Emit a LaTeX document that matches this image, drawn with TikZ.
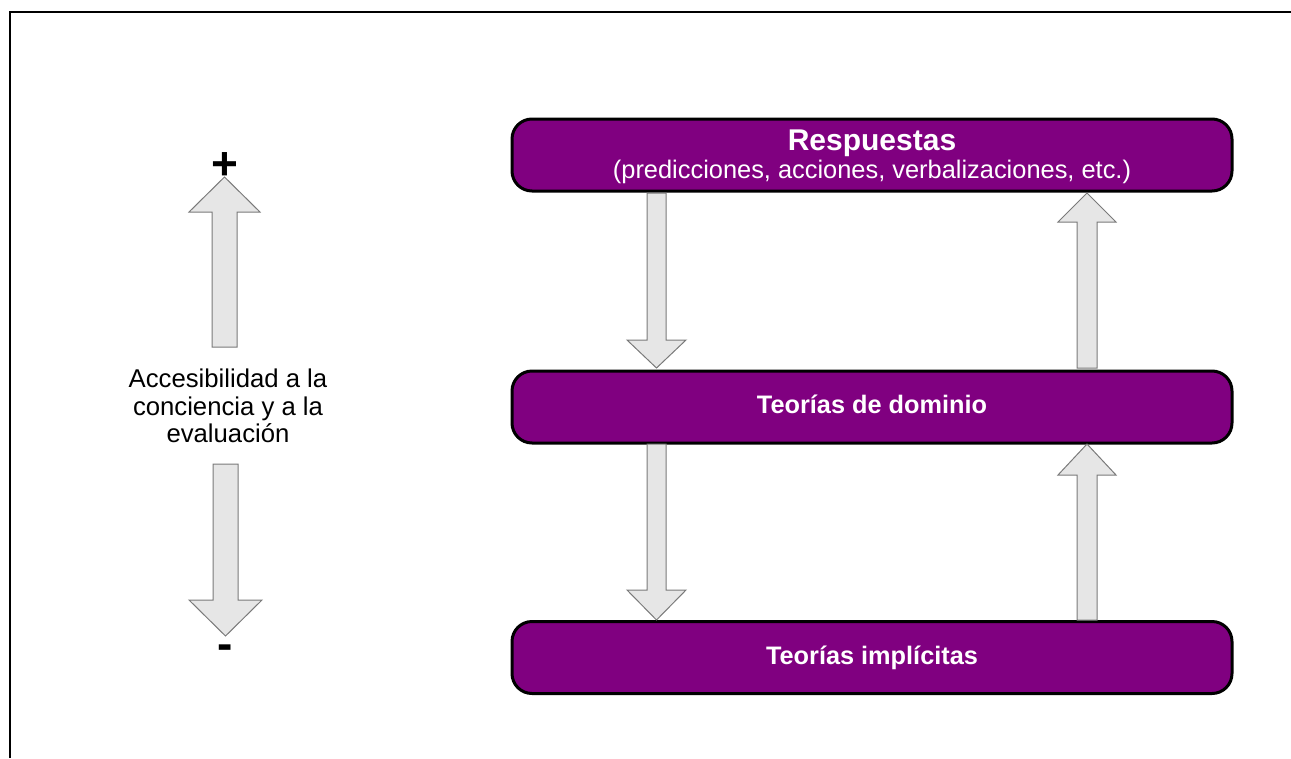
\documentclass[tikz,border=0pt]{standalone}
\usepackage{fontspec}
\setmainfont{Liberation Sans}
\usetikzlibrary{calc}
\definecolor{boxpurple}{HTML}{800080}
\definecolor{arrowfill}{HTML}{E6E6E6}
\definecolor{arrowline}{HTML}{7A7A7A}
\newcommand\blockarr[6]{%
  \draw[blockarrow] (#1-#5,#2) -- (#1+#5,#2) -- (#1+#5,#3) -- (#1+#6,#3) -- (#1,#4) -- (#1-#6,#3) -- (#1-#5,#3) -- cycle;}
\begin{document}
\begin{tikzpicture}[x=1pt,y=-1pt,
  stagebox/.style={draw=black, line width=3pt, fill=boxpurple, rounded corners=20pt,
    minimum width=720pt, minimum height=72pt, inner sep=0pt},
  blockarrow/.style={draw=arrowline, fill=arrowfill, line width=1pt, line join=miter},
  whitetxt/.style={text=white, inner sep=0pt, anchor=base},
  sidetxt/.style={text=black, inner sep=0pt, anchor=base, font=\fontsize{25.7}{28}\selectfont},
  signtxt/.style={text=black, inner sep=0pt, anchor=base, font=\fontsize{46}{50}\selectfont\bfseries}
]
\useasboundingbox (0,0) rectangle (1291,758);
% frame
\coordinate (fbl) at (10.3,758);
\coordinate (ftl) at (10.3,12);
\coordinate (ftr) at (1291,12);
\draw[line width=2pt] (fbl) -- (ftl) -- (ftr);

% boxes
\node[stagebox] (resp) at (872,155) {};
\node[stagebox] (dom) at (872,407) {};
\node[stagebox] (impl) at (872,657.5) {};

\node[whitetxt, font=\fontsize{30}{34}\selectfont\bfseries] (respT) at ($(resp.center)+(0,-5)$) {Respuestas};
\node[whitetxt, font=\fontsize{25.4}{30}\selectfont] (respS) at ($(resp.center)+(0,23)$) {(predicciones, acciones, verbalizaciones, etc.)};
\node[whitetxt, font=\fontsize{25.3}{30}\selectfont\bfseries] (domT) at ($(dom.center)+(0,6)$) {Teorías de dominio};
\node[whitetxt, font=\fontsize{25.3}{30}\selectfont\bfseries] (implT) at ($(impl.center)+(0,6.5)$) {Teorías implícitas};

% arrows between boxes
\blockarr{656.5}{193}{340}{368}{9.5}{29.5}
\blockarr{1087}{368}{222}{193}{10}{29}
\blockarr{656.5}{444}{590}{620}{9.5}{29.5}
\blockarr{1087}{620}{475}{444}{10}{29}

% left scale
\blockarr{224.5}{347}{212}{177}{12.5}{35.5}
\blockarr{225.5}{464}{600}{636}{12.5}{36.5}
\node[signtxt] (plus) at (225,179) {+};
\node[signtxt] (minus) at (225.5,659.5) {-};
\node[sidetxt] (l1) at (228,387) {Accesibilidad a la};
\node[sidetxt] (l2) at (228,415) {conciencia y a la};
\node[sidetxt] (l3) at (228,442) {evaluación};
\end{tikzpicture}
\end{document}
